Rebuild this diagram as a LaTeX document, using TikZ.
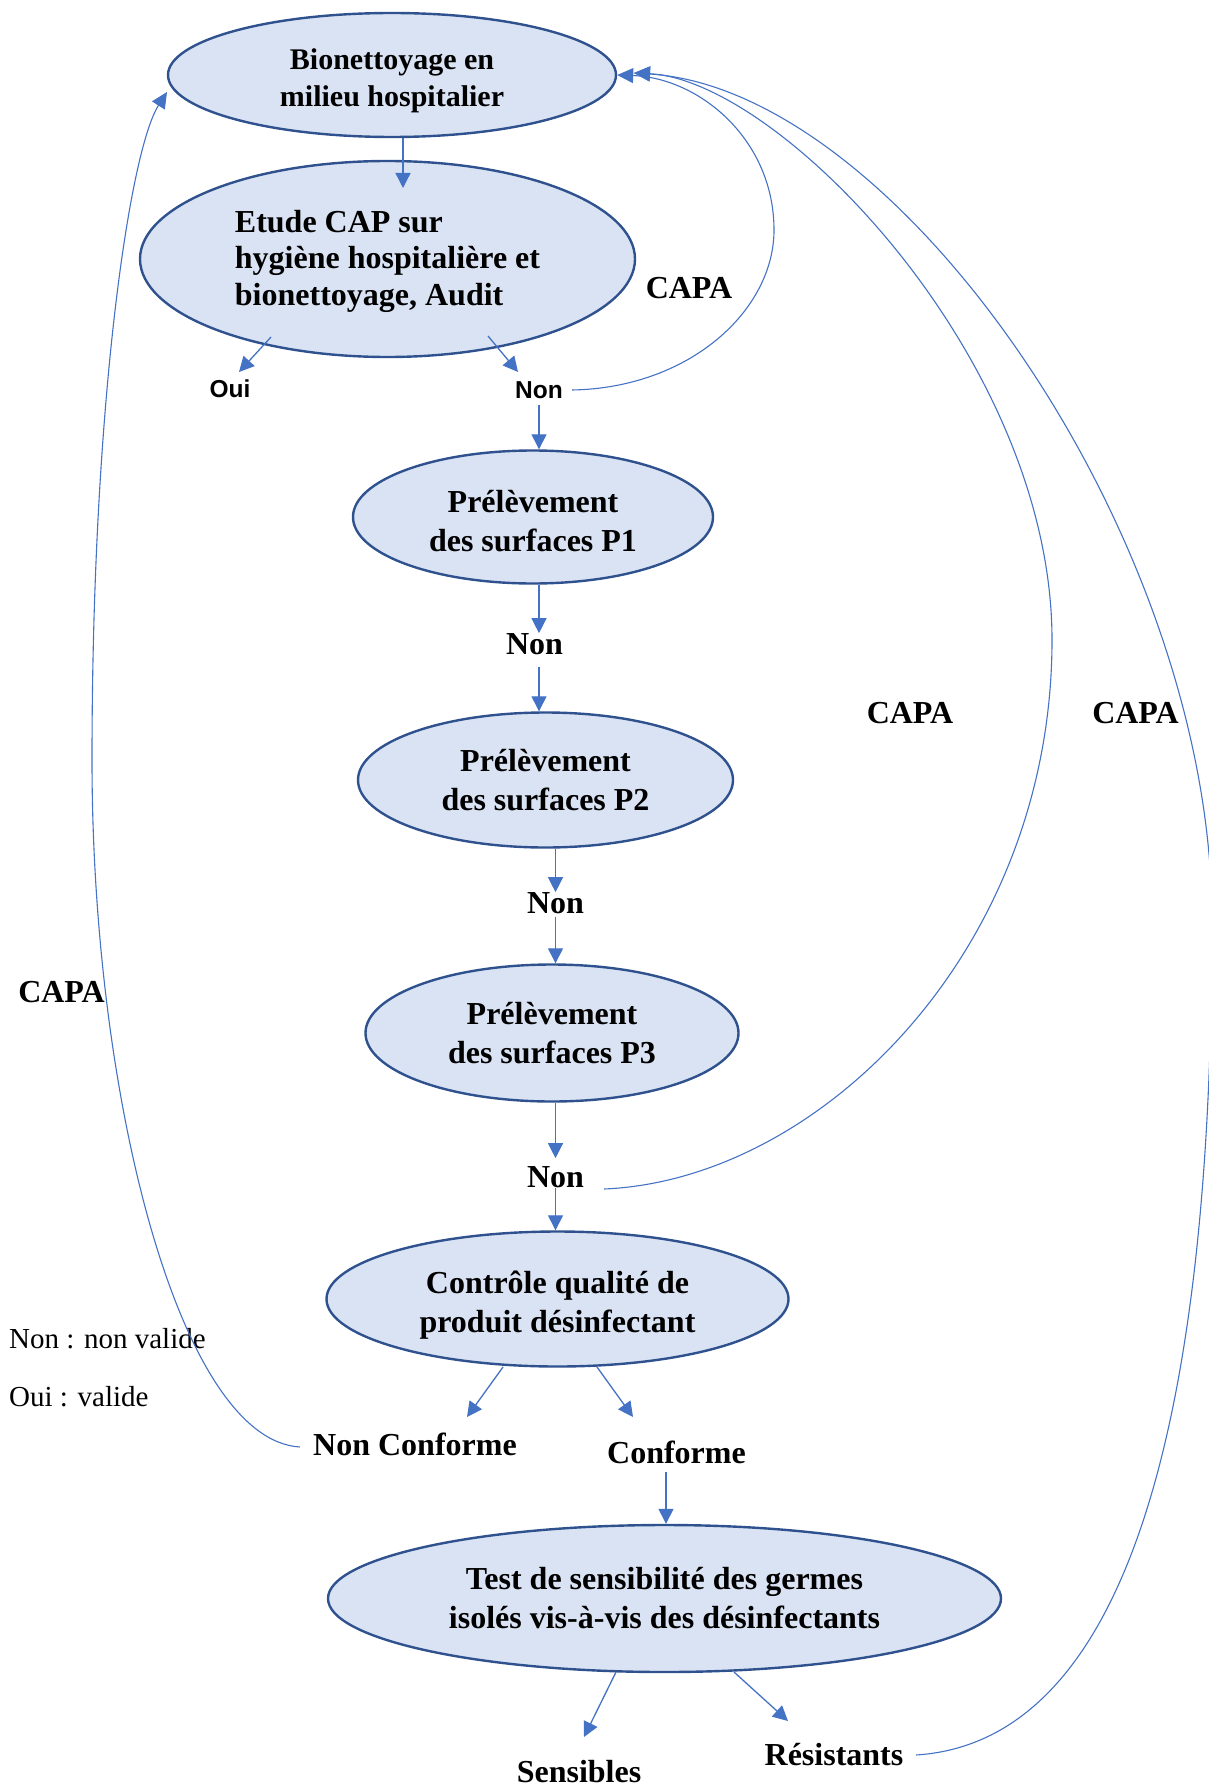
\documentclass[tikz,border=0pt]{standalone}
\usepackage{fontspec}
\setmainfont{Liberation Serif}
\newfontfamily\sansb{Liberation Sans}
\usetikzlibrary{shapes.geometric,arrows.meta}
\definecolor{fillc}{HTML}{DAE3F3}
\definecolor{borderc}{HTML}{2F528F}
\definecolor{linec}{HTML}{4472C4}
\newcommand{\myshim}[1]{\rule{0pt}{#1}}
\begin{document}
\begin{tikzpicture}[x=1pt,y=-1pt,
  oval/.style={ellipse,draw=borderc,fill=fillc,line width=2.4pt,inner sep=0pt,align=center,
    font=\bfseries\fontsize{32}{39}\selectfont},
  lbl/.style={inner sep=0pt,font=\bfseries\fontsize{32}{38}\selectfont},
  slbl/.style={inner sep=0pt,font=\sansb\bfseries\fontsize{24.5}{28}\selectfont},
  leg/.style={inner sep=0pt,anchor=west,font=\fontsize{29}{34}\selectfont},
  tip/.style={-{Triangle[length=15pt,width=15pt]}},
  ctip/.style={-{Triangle[length=16pt,width=15pt]}},
  arr/.style={draw=linec,line width=1.3pt,tip},
  cur/.style={draw=linec,line width=1.1pt,ctip}]
\useasboundingbox (0,0) rectangle (1208,1787);

% ellipses
\node[oval,minimum width=448pt,minimum height=124pt,font=\bfseries\fontsize{30}{37}\selectfont] (E1) at (392,75) {\myshim{32pt}Bionettoyage en\\milieu hospitalier};
\node[oval,align=left,minimum width=495pt,minimum height=196pt,font=\bfseries\fontsize{32}{36.5}\selectfont] (E2) at (387.5,259) {\myshim{27pt}Etude CAP sur\\hygiène hospitalière et\\bionettoyage, Audit};
\node[oval,minimum width=360pt,minimum height=133pt] (P1) at (533,517) {\myshim{29.5pt}Prélèvement\\des surfaces P1};
\node[oval,minimum width=375pt,minimum height=135pt] (P2) at (545.5,780) {Prélèvement\\des surfaces P2};
\node[oval,minimum width=373pt,minimum height=137pt] (P3) at (552,1033) {Prélèvement\\des surfaces P3};
\node[oval,minimum width=462pt,minimum height=135pt] (C) at (557.5,1299) {\myshim{34.5pt}Contrôle qualité de\\produit désinfectant};
\node[oval,minimum width=673pt,minimum height=147pt] (T) at (664.5,1598.5) {Test de sensibilité des germes\\isolés vis-à-vis des désinfectants};

% labels
\node[slbl] (Oui) at (230,389) {Oui};
\node[slbl] (NonA) at (539,390) {Non};
\node[lbl] (NonB) at (534.5,644) {Non};
\node[lbl] (NonC) at (555.5,903) {Non};
\node[lbl] (NonD) at (555.5,1177) {Non};
\node[lbl] (NC) at (415,1444) {Non Conforme};
\node[lbl] (Conf) at (676.5,1452) {Conforme};
\node[lbl] (Sens) at (579,1772) {Sensibles};
\node[lbl] (Res) at (834,1755) {Résistants};
\node[lbl] (capa1) at (689,288.5) {CAPA};
\node[lbl] (capa2) at (910,713.5) {CAPA};
\node[lbl] (capa3) at (1135.5,713) {CAPA};
\node[lbl] (capa4) at (61.5,992.5) {CAPA};
\node[leg] (leg1) at (9,1339) {Non : non valide};
\node[leg] (leg2) at (9,1397) {Oui : valide};

% straight connectors
\coordinate (a1) at (403,188);
\draw[arr] (E1.south -| a1) -- (a1);
\coordinate (o1s) at (271,337); \coordinate (o1e) at (239,372);
\draw[arr] (o1s) -- (o1e);
\coordinate (n1s) at (488,336); \coordinate (n1e) at (518,372);
\draw[arr] (n1s) -- (n1e);
\draw[arr,shorten <=6pt] (NonA.south) -- (NonA.south |- P1.north);
\draw[arr] (P1.south -| NonA.south) -- (NonA.south |- NonB.north);
\draw[arr,shorten <=12pt] (NonA.south |- NonB.south) -- (NonA.south |- P2.north);
\draw[arr] (P2.south -| NonC.north) -- (NonC.north);
\draw[arr,shorten <=3pt] (NonC.south) -- (NonC.south |- P3.north);
\draw[arr,shorten >=8pt] (P3.south -| NonD.north) -- (NonD.north);
\draw[arr] (NonD.south) -- (NonD.south |- C.north);
\coordinate (c1s) at (503,1367); \coordinate (c1e) at (467,1417);
\draw[arr] (c1s) -- (c1e);
\coordinate (c2s) at (597,1367); \coordinate (c2e) at (633,1417);
\draw[arr] (c2s) -- (c2e);
\coordinate (c3) at (666,1472);
\draw[arr] (c3) -- (c3 |- T.north);
\coordinate (t1s) at (616,1672); \coordinate (t1e) at (584,1737);
\draw[arr] (t1s) -- (t1e);
\coordinate (t2s) at (734,1672); \coordinate (t2e) at (788,1721);
\draw[arr] (t2s) -- (t2e);

% CAPA curves
\coordinate (k1) at (572,390);
\coordinate (e2) at (634,73);
\draw[cur] (k1) .. controls (690,388) and (774,310) .. (774,230)
  .. controls (774,140) and (700,78) .. (E1.east);
\coordinate (k2) at (604,1189);
\draw[cur] (k2) .. controls (820,1180) and (1052,950) .. (1052,640)
  .. controls (1052,360) and (780,80) .. (e2);
\coordinate (k3) at (916,1755);
\draw[cur] (k3) .. controls (1150,1740) and (1212,1350) .. (1212,920)
  .. controls (1212,540) and (900,90) .. (e2);
\coordinate (k4) at (300,1447);
\draw[cur] (k4) .. controls (180,1440) and (92,1100) .. (92,760)
  .. controls (92,400) and (130,150) .. (167,92);
\end{tikzpicture}
\end{document}
